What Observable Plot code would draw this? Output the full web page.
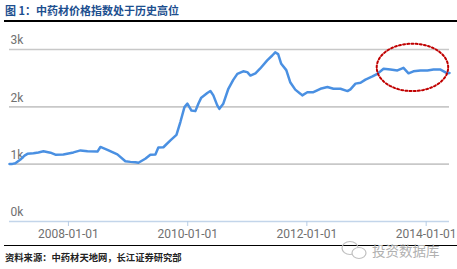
<!DOCTYPE html>
<html><head><meta charset="utf-8">
<script src="https://cdn.jsdelivr.net/npm/d3@7"></script>
<script src="https://cdn.jsdelivr.net/npm/@observablehq/plot@0.6"></script>
<style>
body{margin:0;background:#fff;width:457px;height:269px;overflow:hidden;position:relative;font-family:"Noto Sans CJK SC","Noto Sans",sans-serif;}
#title{position:absolute;left:5px;top:2px;font-size:11px;font-weight:bold;color:#1d4f8f;white-space:nowrap;}
.rule{position:absolute;left:4px;right:0;height:1.5px;background:#000;}
#chart{position:absolute;left:0;top:23px;}
#caption{position:absolute;left:5px;top:250px;font-size:9.3px;font-weight:bold;color:#222;white-space:nowrap;}
#wm{position:absolute;left:372px;top:242px;font-size:13.5px;line-height:16px;color:#b0b0b0;white-space:nowrap;}
#wmicon{position:absolute;left:340px;top:239px;}
</style></head>
<body>
<div id="title">图 1：中药材价格指数处于历史高位</div>
<div class="rule" style="top:20px"></div>
<div id="chart"></div>
<div class="rule" style="top:244.5px"></div>
<div id="caption">资料来源：中药材天地网，长江证券研究部</div>
<svg id="wmicon" width="30" height="22"><ellipse cx="10" cy="9" rx="8" ry="6.5" fill="none" stroke="#c0c0c0" stroke-width="1.2"/><ellipse cx="19" cy="14" rx="7" ry="5.5" fill="#fff" stroke="#c0c0c0" stroke-width="1.2"/></svg>
<div id="wm">投资数据库</div>
<script>
const dates = ["2007-01-05","2007-01-23","2007-02-10","2007-03-13","2007-04-07","2007-04-25","2007-06-01","2007-07-01","2007-08-01","2007-09-13","2007-10-13","2007-12-01","2008-02-01","2008-03-15","2008-04-27","2008-06-27","2008-07-15","2008-08-27","2008-10-27","2008-12-15","2009-01-15","2009-02-15","2009-03-05","2009-04-16","2009-05-17","2009-06-17","2009-07-05","2009-08-05","2009-09-17","2009-10-24","2009-11-17","2009-12-12","2009-12-30","2010-01-24","2010-02-17","2010-03-07","2010-03-25","2010-05-01","2010-05-20","2010-06-07","2010-07-01","2010-07-14","2010-08-07","2010-09-07","2010-10-07","2010-11-01","2010-12-07","2011-01-01","2011-01-20","2011-02-20","2011-03-20","2011-05-03","2011-06-03","2011-06-21","2011-07-09","2011-07-28","2011-08-28","2011-09-21","2011-10-22","2011-11-22","2011-12-04","2012-01-04","2012-02-10","2012-03-24","2012-05-06","2012-06-12","2012-07-25","2012-09-06","2012-09-24","2012-10-25","2012-11-25","2012-12-25","2013-02-06","2013-03-08","2013-04-15","2013-05-27","2013-07-09","2013-08-15","2013-09-15","2013-10-15","2013-11-27","2014-01-09","2014-02-15","2014-03-30","2014-05-11","2014-05-24"];
const values = [1005,1005,1015,1080,1150,1180,1190,1205,1225,1200,1165,1170,1205,1240,1225,1220,1300,1250,1170,1050,1040,1035,1025,1095,1165,1170,1290,1295,1415,1510,1735,1995,2055,1935,1925,2055,2160,2240,2275,2200,2025,1965,2055,2315,2470,2575,2620,2605,2545,2585,2665,2810,2895,2950,2920,2750,2640,2430,2300,2230,2200,2255,2255,2315,2345,2315,2315,2275,2305,2405,2420,2475,2530,2575,2665,2650,2635,2680,2585,2620,2635,2635,2650,2650,2585,2590];
const yTicks = [0, 1000, 2000, 3000];
const xTicks = ["2008-01-01","2010-01-01","2012-01-01","2014-01-01"];
const xDomain = ["2007-01-05","2014-05-24"];
// highlight ellipse annotation (data units)
const ellipseCenter = {date: "2013-10-09", value: 2688};
const ellipseRadius = {days: 219, value: 414};

const data = dates.map((d, i) => ({date: new Date(d), value: values[i]}));
const c0 = new Date(ellipseCenter.date).getTime();
const ell = d3.range(0, 361, 3).map(a => {
  const t = a * Math.PI / 180;
  return {date: new Date(c0 + Math.cos(t) * ellipseRadius.days * 864e5), value: ellipseCenter.value + Math.sin(t) * ellipseRadius.value};
});

const chart = Plot.plot({
  width: 457, height: 222,
  marginLeft: 9, marginRight: 8, marginTop: 26, marginBottom: 24,
  style: {fontFamily: "Roboto, sans-serif", fontSize: "12px", color: "#707070", background: "transparent"},
  x: {type: "utc", domain: xDomain.map(d => new Date(d))},
  y: {domain: [0, 3000]},
  marks: [
    Plot.ruleY(yTicks.filter(d => d > 0), {stroke: "#c8c8c8", strokeWidth: 1.6, strokeOpacity: 1}),
    Plot.ruleY([0], {stroke: "#c3d5ea", strokeWidth: 1.6}),
    Plot.axisY({ticks: yTicks, tickSize: 0, tickPadding: 0, textAnchor: "start", dx: 1, dy: -9, tickFormat: d => d / 1000 + "k", fill: "#707070", label: null}),
    Plot.axisX({ticks: xTicks.map(d => new Date(d)), tickFormat: d3.utcFormat("%Y-%m-%d"), tickSize: 5, tickPadding: 3, stroke: "#b7cce4", fill: "#707070", label: null}),
    Plot.line(data, {x: "date", y: "value", stroke: "#4a90e2", strokeWidth: 2.5, strokeLinejoin: "round"}),
    Plot.line(ell, {x: "date", y: "value", stroke: "#c00000", strokeWidth: 2, strokeDasharray: "2,2.2"})
  ]
});
document.getElementById("chart").appendChild(chart);
</script>
</body></html>
